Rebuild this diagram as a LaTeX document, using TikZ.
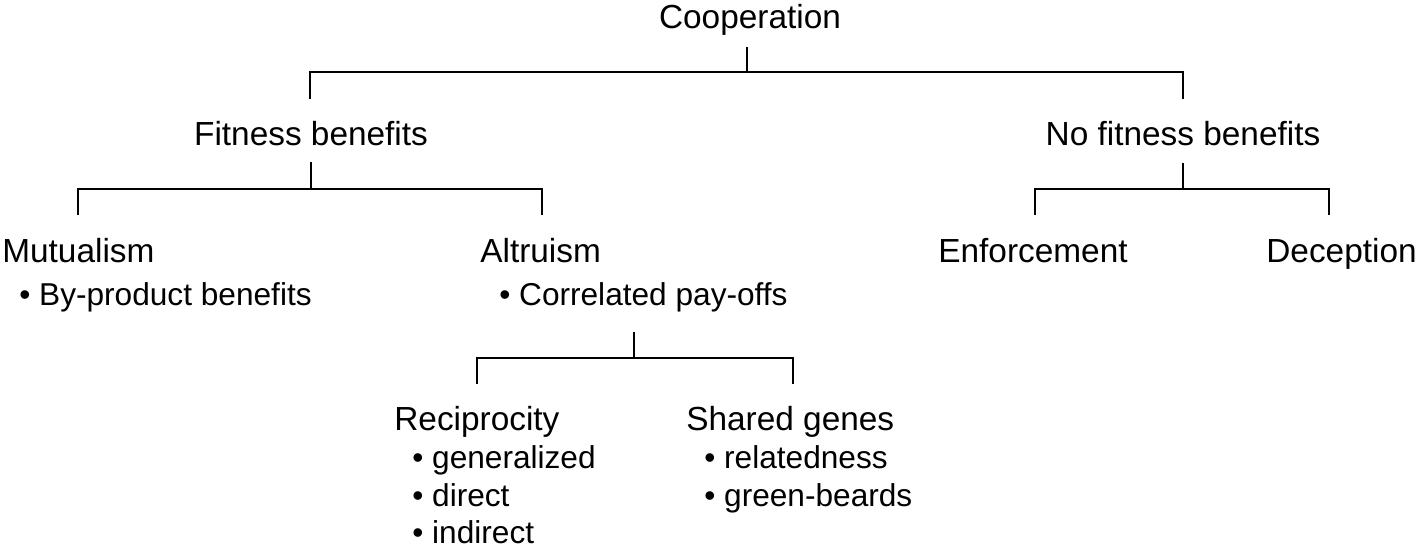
\documentclass[tikz,border=0pt]{standalone}
\usepackage{fontspec}
\setmainfont{Liberation Sans}
\begin{document}
\begin{tikzpicture}[x=0.02cm,y=-0.02cm,
  lbl/.style={inner sep=0pt, font=\fontsize{19}{23}\selectfont},
  item/.style={inner sep=0pt, anchor=base west, font=\fontsize{18}{22}\selectfont},
  conn/.style={line width=1.1pt, line cap=rect}]
\useasboundingbox (0,0) rectangle (1417,549);
% labels
\node[lbl,anchor=base] (coop) at (750,28) {Cooperation};
\node[lbl,anchor=base] (fit) at (311,145) {Fitness benefits};
\node[lbl,anchor=base] (nofit) at (1183,145) {No fitness benefits};
\node[lbl,anchor=base west] (mut) at (2,262) {Mutualism};
\node[item] (mut1) at (19,305) {• By-product benefits};
\node[lbl,anchor=base west] (alt) at (480,262) {Altruism};
\node[item] (alt1) at (499,305) {• Correlated pay-offs};
\node[lbl,anchor=base] (enf) at (1033,262) {Enforcement};
\node[lbl,anchor=base west] (dec) at (1266,262) {Deception};
\node[lbl,anchor=base west] (rec) at (394,430) {Reciprocity};
\node[item] (rec1) at (412,468) {• generalized};
\node[item] (rec2) at (412,506) {• direct};
\node[item] (rec3) at (412,543) {• indirect};
\node[lbl,anchor=base west] (sha) at (686,430) {Shared genes};
\node[item] (sha1) at (704,468) {• relatedness};
\node[item] (sha2) at (704,506) {• green-beards};
% bracket coordinates
\coordinate (coop-b) at (747,48);
\coordinate (coop-j) at (747,72);
\coordinate (fit-t) at (310,98);
\coordinate (nofit-t) at (1183,98);
\coordinate (fit-b) at (311,163);
\coordinate (fit-j) at (311,189);
\coordinate (mut-t) at (78,214);
\coordinate (alt-t) at (542,214);
\coordinate (nofit-b) at (1183,164);
\coordinate (nofit-j) at (1183,189);
\coordinate (enf-t) at (1035,214);
\coordinate (dec-t) at (1329,214);
\coordinate (alt-b) at (634,333);
\coordinate (alt-j) at (634,358);
\coordinate (rec-t) at (477,383);
\coordinate (sha-t) at (793,383);
% connectors
\draw[conn] (coop-b) -- (coop-j);
\draw[conn] (fit-t) |- (coop-j) -| (nofit-t);
\draw[conn] (fit-b) -- (fit-j);
\draw[conn] (mut-t) |- (fit-j) -| (alt-t);
\draw[conn] (nofit-b) -- (nofit-j);
\draw[conn] (enf-t) |- (nofit-j) -| (dec-t);
\draw[conn] (alt-b) -- (alt-j);
\draw[conn] (rec-t) |- (alt-j) -| (sha-t);
\end{tikzpicture}
\end{document}
